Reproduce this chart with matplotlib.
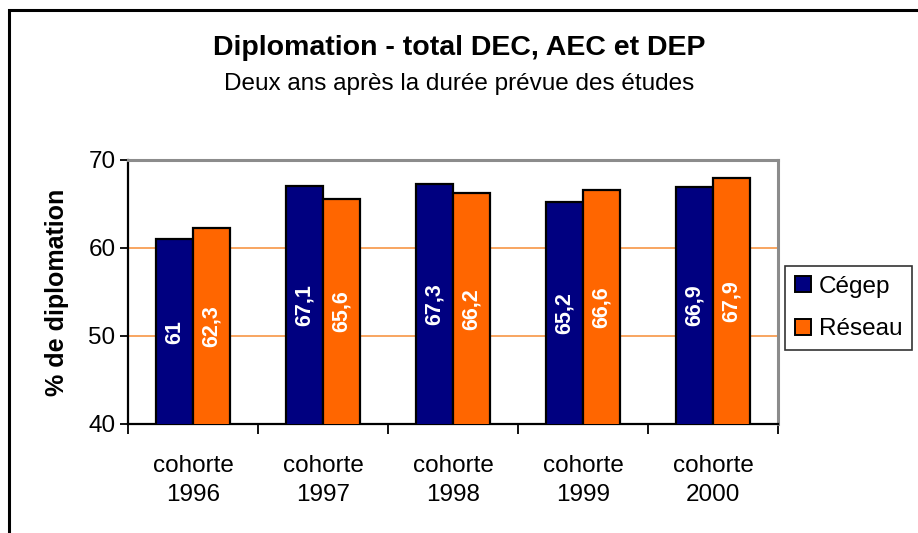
import matplotlib
matplotlib.use("Agg")
import matplotlib.pyplot as plt
from matplotlib.patches import Rectangle, Patch
import numpy as np

plt.rcParams['font.family'] = ['Liberation Sans', 'DejaVu Sans']

categories = ["cohorte\n1996", "cohorte\n1997", "cohorte\n1998", "cohorte\n1999", "cohorte\n2000"]
cegep = [61.0, 67.1, 67.3, 65.2, 66.9]
reseau = [62.3, 65.6, 66.2, 66.6, 67.9]
cegep_labels = ["61", "67,1", "67,3", "65,2", "66,9"]
reseau_labels = ["62,3", "65,6", "66,2", "66,6", "67,9"]
yticks = [40, 50, 60, 70]

navy = "#000080"
orange = "#FF6600"

fig = plt.figure(figsize=(9.18, 5.33), dpi=100)
W, H = 918, 533

# outer border of chart area (extends beyond figure on right/bottom)
fig.patches.append(Rectangle((9 / W, -0.1), 1.2, 1 - 10 / H + 0.1, transform=fig.transFigure,
                             fill=False, edgecolor="black", linewidth=2.2))

ax = fig.add_axes([128 / W, 1 - 424 / H, (778 - 128) / W, (424 - 160) / H])

x = np.arange(len(categories))
bw = 0.285
b1 = ax.bar(x - bw / 2, cegep, bw, color=navy, edgecolor="black", linewidth=1.6, zorder=3)
b2 = ax.bar(x + bw / 2, reseau, bw, color=orange, edgecolor="black", linewidth=1.6, zorder=3)

ymin = 40
for bars, labs in ((b1, cegep_labels), (b2, reseau_labels)):
    for rect, lab in zip(bars, labs):
        ax.text(rect.get_x() + rect.get_width() / 2, (ymin + rect.get_height()) / 2, lab,
                rotation=90, ha="center", va="center", color="white", fontsize=15.5,
                fontweight="bold", zorder=4)

ax.set_xlim(-0.5, len(categories) - 0.5)
ax.set_ylim(ymin, 70)
ax.set_yticks(yticks)
ax.set_yticklabels([str(v) for v in yticks], fontsize=17.5)
for v in [50, 60]:
    ax.axhline(v, color="#F79646", linewidth=1.2, zorder=1)

ax.set_xticks(np.arange(len(categories) + 1) - 0.5)
ax.set_xticklabels([])
ax.set_xticks(x, minor=True)
ax.set_xticklabels(categories, minor=True, fontsize=17.5, linespacing=1.45)
ax.tick_params(axis="x", which="minor", length=0, pad=22)
ax.tick_params(axis="x", which="major", length=7, width=1.3, direction="out")
ax.tick_params(axis="y", length=6, width=1.3, direction="out", pad=3)

ax.spines["left"].set_linewidth(1.6)
ax.spines["bottom"].set_linewidth(1.6)
ax.spines["top"].set_color("#8C8C8C")
ax.spines["right"].set_color("#8C8C8C")
ax.spines["top"].set_linewidth(2.2)
ax.spines["right"].set_linewidth(2.2)

ax.set_ylabel("% de diplomation", fontsize=18, fontweight="bold", labelpad=14)

fig.text(0.5, 1 - 48 / H, "Diplomation - total DEC, AEC et DEP", ha="center", va="center",
         fontsize=20.5, fontweight="bold")
fig.text(0.5, 1 - 84 / H, "Deux ans après la durée prévue des études", ha="center", va="center",
         fontsize=17.5)

handles = [Patch(facecolor=navy, edgecolor="black", linewidth=1.4),
           Patch(facecolor=orange, edgecolor="black", linewidth=1.4)]
leg = fig.legend(handles, ["Cégep", "Réseau"], loc="center left",
                 bbox_to_anchor=(785 / W, 1 - 308 / H), fontsize=17.5, frameon=True,
                 fancybox=False, edgecolor="black", handlelength=0.65, handleheight=0.65,
                 handletextpad=0.33, borderpad=0.4, labelspacing=0.85, borderaxespad=0)
leg.get_frame().set_linewidth(1.2)

fig.savefig("out.png", dpi=100)
